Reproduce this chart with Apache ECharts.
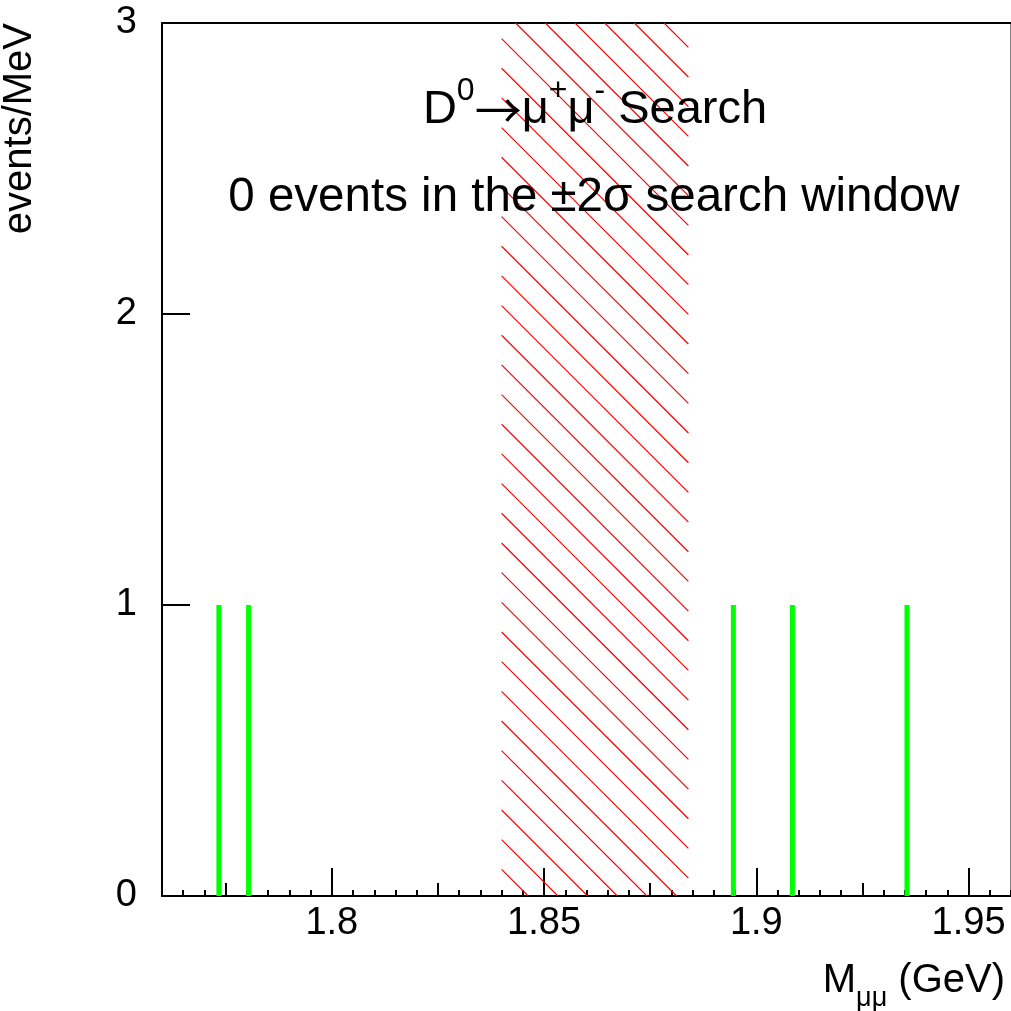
<!DOCTYPE html>
<html>
<head>
<meta charset="utf-8">
<script src="https://cdn.jsdelivr.net/npm/echarts@6/dist/echarts.min.js"></script>
<style>
  html, body { margin: 0; padding: 0; background: #fff; }
  #chart { width: 1011px; height: 1011px; }
</style>
</head>
<body>
<div id="chart"></div>
<script>
// candidate masses (GeV), one entry each
const eventMass = [1.7734, 1.7804, 1.8946, 1.9085, 1.9355];
const eventCount = [1, 1, 1, 1, 1];
// +-2 sigma search window (GeV)
const searchWindow = [1.84, 1.884];
const xMin = 1.76;
const xMax = 1.96;
const xLabelTicks = [1.8, 1.85, 1.9, 1.95];
const xMediumTicks = [1.775, 1.825, 1.875, 1.925];
const yMin = 0;
const yMax = 3;

// minor ticks every 5 MeV
const xMinorTicks = [];
for (let i = 0; i <= 40; i++) xMinorTicks.push(+(xMin + i * 0.005).toFixed(3));

const FONT = "'Liberation Sans', Arial, Helvetica, sans-serif";
const HATCH_STEP = 29.67; // px between hatch lines
const HATCH_PHASE = 492.7;

function xTickAxis(ticks, len, withLabels) {
  return {
    type: "value",
    position: "bottom",
    min: xMin,
    max: xMax,
    axisLine: { show: true, onZero: false, lineStyle: { color: "#000", width: 2 } },
    axisTick: {
      show: true,
      inside: true,
      length: len,
      customValues: ticks,
      lineStyle: { color: "#000", width: 2 },
    },
    axisLabel: withLabels
      ? {
          show: true,
          customValues: xLabelTicks,
          formatter: (v) => String(v),
          fontSize: 38,
          fontFamily: FONT,
          color: "#000",
          margin: 9,
        }
      : { show: false },
    splitLine: { show: false },
  };
}

// 45 degree hatching inside the search window
function renderHatch(params, api) {
  const p0 = api.coord([api.value(0), yMax]);
  const p1 = api.coord([api.value(1), yMin]);
  const L = p0[0], T = p0[1], R = p1[0], B = p1[1];
  const children = [];
  const kStart = Math.floor((L - B - HATCH_PHASE) / HATCH_STEP);
  const kEnd = Math.ceil((R - T - HATCH_PHASE) / HATCH_STEP);
  for (let k = kStart; k <= kEnd; k++) {
    const c = HATCH_PHASE + k * HATCH_STEP;
    const y0 = Math.max(T, L - c);
    const y1 = Math.min(B, R - c);
    if (y1 <= y0) continue;
    children.push({
      type: "line",
      shape: { x1: y0 + c, y1: y0, x2: y1 + c, y2: y1 },
      style: { stroke: "#ff0000", lineWidth: 1.2 },
    });
  }
  return { type: "group", children };
}

const chart = echarts.init(document.getElementById("chart"));

const option = {
  animation: false,
  backgroundColor: "#fff",
  grid: {
    left: 162,
    right: 0,
    top: 23,
    bottom: 115,
    show: true,
    borderColor: "#000",
    borderWidth: 1,
    outerBoundsMode: "none",
  },
  xAxis: [
    xTickAxis(xMinorTicks, 6, false),
    xTickAxis(xMediumTicks, 13, false),
    xTickAxis(xLabelTicks, 28, true),
    {
      type: "value",
      position: "top",
      min: xMin,
      max: xMax,
      axisLine: { show: true, onZero: false, lineStyle: { color: "#000", width: 2 } },
      axisTick: { show: false },
      axisLabel: { show: false },
      splitLine: { show: false },
    },
  ],
  yAxis: {
    type: "value",
    min: yMin,
    max: yMax,
    interval: 1,
    position: "left",
    axisLine: { show: true, onZero: false, lineStyle: { color: "#000", width: 2 } },
    axisTick: { show: true, inside: true, length: 28, lineStyle: { color: "#000", width: 2 } },
    axisLabel: { fontSize: 38, fontFamily: FONT, color: "#000", margin: 25 },
    splitLine: { show: false },
  },
  series: [
    {
      type: "custom",
      xAxisIndex: 2,
      yAxisIndex: 0,
      silent: true,
      clip: true,
      data: [[searchWindow[0], searchWindow[1]]],
      renderItem: renderHatch,
      z: 1,
    },
    {
      type: "bar",
      xAxisIndex: 2,
      yAxisIndex: 0,
      data: eventMass.map((m, i) => [m, eventCount[i]]),
      barWidth: 5,
      itemStyle: { color: "#00ff00" },
      silent: true,
      z: 2,
    },
  ],
  graphic: [
    {
      type: "text",
      x: 595,
      y: 110,
      z: 100,
      style: {
        text: "{m|D}{s|0}{a|\u2192}{m|\u03bc}{s|+}{m|\u03bc}{s|-}{m| Search}",
        align: "center",
        verticalAlign: "middle",
        textAlign: "center",
        textVerticalAlign: "middle",
        fill: "#000",
        rich: {
          m: { fontSize: 47, fontFamily: FONT, lineHeight: 70, color: "#000" },
          a: { fontSize: 47, fontFamily: "'Noto Sans CJK SC', 'DejaVu Sans', sans-serif", lineHeight: 70, color: "#000" },
          s: { fontSize: 32, fontFamily: FONT, lineHeight: 32, verticalAlign: "top", color: "#000" },
        },
      },
    },
    {
      type: "text",
      x: 594,
      y: 198,
      z: 100,
      style: {
        text: "0 events in the \u00b12\u03c3 search window",
        fontSize: 47.5,
        fontFamily: FONT,
        align: "center",
        verticalAlign: "middle",
        textAlign: "center",
        textVerticalAlign: "middle",
        fill: "#000",
      },
    },
    {
      type: "text",
      x: 1005,
      y: 981,
      z: 100,
      style: {
        text: "{m|M}{u|\u03bc\u03bc}{m| (GeV)}",
        align: "right",
        verticalAlign: "middle",
        textAlign: "right",
        textVerticalAlign: "middle",
        fill: "#000",
        rich: {
          m: { fontSize: 40, fontFamily: FONT, lineHeight: 62, color: "#000" },
          u: { fontSize: 27, fontFamily: FONT, lineHeight: 27, verticalAlign: "bottom", color: "#000" },
        },
      },
    },
    {
      type: "text",
      x: 20,
      y: 23,
      rotation: Math.PI / 2,
      z: 100,
      style: {
        text: "events/MeV",
        fontSize: 40,
        fontFamily: FONT,
        align: "right",
        verticalAlign: "middle",
        textAlign: "right",
        textVerticalAlign: "middle",
        fill: "#000",
      },
    },
  ],
};

chart.setOption(option);
</script>
</body>
</html>
